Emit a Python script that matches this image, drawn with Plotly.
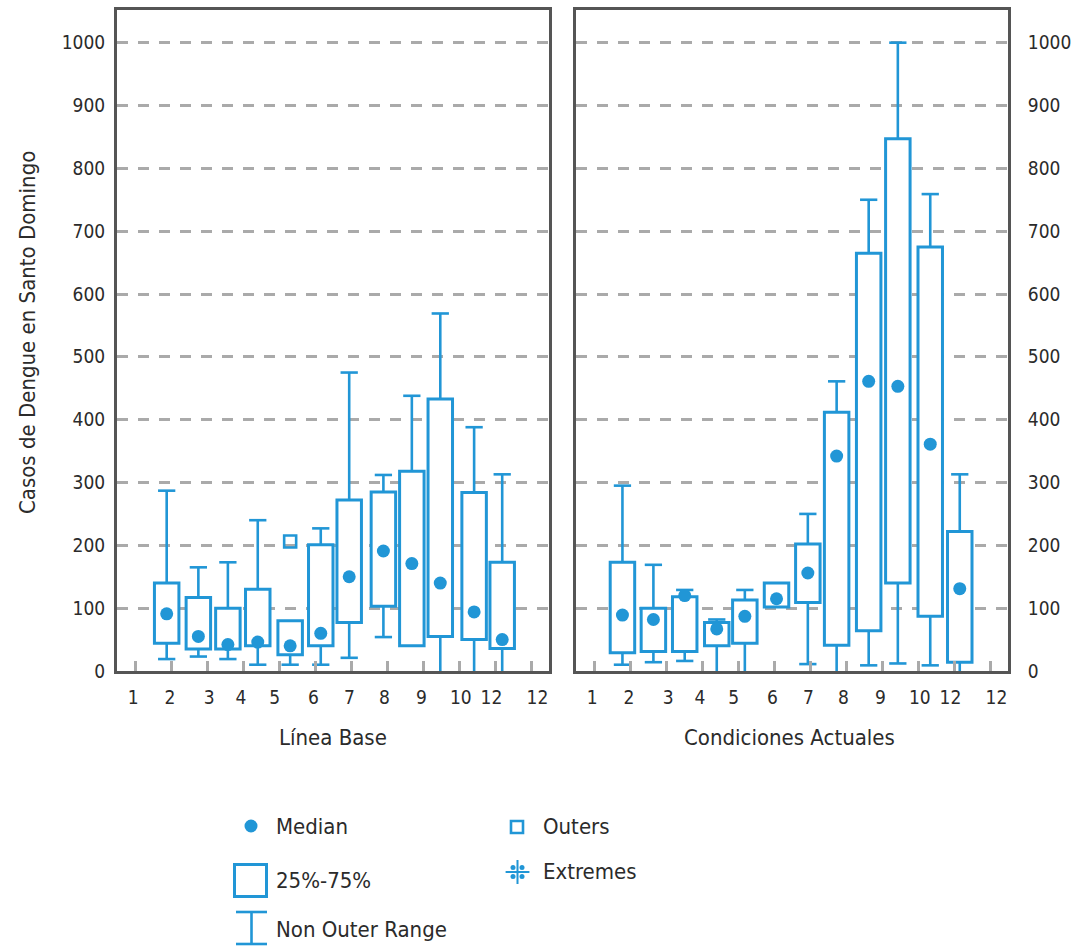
import plotly.graph_objects as go

# ---------------- data ----------------
tick_labels = ["1", "2", "3", "4", "5", "6", "7", "8", "9", "10", "12", "12"]

# Línea Base
pos_base = [1.88, 2.76, 3.58, 4.41, 5.31, 6.16, 6.95, 7.90, 8.69, 9.48, 10.42, 11.20]
base_low = [19, 23, 19, 10, 10, 10, 21, 54, 40, 0, 0, 0]
base_q1 = [44, 35, 35, 40, 26, 40, 77, 103, 40, 55, 50, 36]
base_med = [91, 55, 42, 46, 40, 60, 150, 191, 171, 140, 94, 50]
base_q3 = [140, 117, 100, 130, 80, 201, 272, 285, 318, 433, 284, 173]
base_high = [287, 165, 173, 240, 80, 227, 475, 312, 438, 569, 388, 313]
base_outer_idx = [4]
base_outer_val = [206]

# Condiciones Actuales
pos_act = [1.79, 2.65, 3.52, 4.41, 5.19, 6.07, 6.94, 7.74, 8.63, 9.44, 10.34, 11.16]
act_low = [10, 14, 16, 0, 0, 102, 11, 0, 9, 12, 9, 0]
act_q1 = [29, 31, 31, 40, 44, 102, 109, 41, 64, 140, 87, 14]
act_med = [89, 82, 120, 67, 87, 115, 156, 342, 461, 453, 361, 131]
act_q3 = [173, 100, 118, 77, 113, 140, 202, 412, 665, 847, 675, 222]
act_high = [295, 169, 129, 82, 129, 140, 250, 461, 750, 1000, 759, 313]

# ---------------- style ----------------
BLUE = "#2196D6"
FRAME = "#555555"
GRID = "#AAAAAA"
TXT = "#2b2b2b"
FONT = "DejaVu Sans Condensed, DejaVu Sans, sans-serif"
W, H = 1077, 946          # reference frame used for fractional placement
H_PAGE = 957              # rendered height
BOX_W = 0.68
CAP = 0.24

label_pos = [0.95, 1.97, 3.06, 3.94, 4.88, 5.96, 6.96, 7.93, 8.96, 10.05, 10.9, 12.18]

fig = go.Figure()


def whiskers(pos, low, q1, q3, high):
    xs, ys = [], []
    for p, lo, a, b, hi in zip(pos, low, q1, q3, high):
        if hi > b:
            xs += [p, p, None, p - CAP, p + CAP, None]
            ys += [b, hi, None, hi, hi, None]
        if lo < a:
            xs += [p, p, None]
            ys += [a, lo, None]
            if lo > 0:
                xs += [p - CAP, p + CAP, None]
                ys += [lo, lo, None]
    return xs, ys


def add_panel(pos, low, q1, med, q3, high, xa, ya):
    fig.add_trace(go.Bar(
        x=pos, y=[b - a for a, b in zip(q1, q3)], base=q1, width=BOX_W,
        marker=dict(color="white", line=dict(color=BLUE, width=3)),
        xaxis=xa, yaxis=ya, hoverinfo="skip"))
    wx, wy = whiskers(pos, low, q1, q3, high)
    fig.add_trace(go.Scatter(x=wx, y=wy, mode="lines",
                             line=dict(color=BLUE, width=2.6),
                             xaxis=xa, yaxis=ya, hoverinfo="skip"))
    fig.add_trace(go.Scatter(x=pos, y=med, mode="markers",
                             marker=dict(color=BLUE, size=13),
                             xaxis=xa, yaxis=ya))


add_panel(pos_base, base_low, base_q1, base_med, base_q3, base_high, "x", "y")
fig.add_trace(go.Scatter(
    x=[pos_base[i] for i in base_outer_idx], y=base_outer_val, mode="markers",
    marker=dict(symbol="square-open", size=12, color=BLUE, line=dict(width=2.6, color=BLUE)),
    xaxis="x", yaxis="y"))
add_panel(pos_act, act_low, act_q1, act_med, act_q3, act_high, "x2", "y2")

# ---------------- axes ----------------
y0 = 1 - 671 / H
y1 = 1 - 10 / H
common_x = dict(
    range=[0.5, 12.5], tickvals=label_pos, ticktext=tick_labels, ticks="",
    tickfont=dict(family=FONT, size=19, color=TXT), ticklabelstandoff=7,
    minor=dict(tickvals=list(range(1, 13)), ticks="inside", ticklen=10,
               tickwidth=2.5, tickcolor=GRID),
    showline=True, mirror=True, linecolor=FRAME, linewidth=3,
    showgrid=False, zeroline=False, fixedrange=True)
common_y = dict(
    range=[0, 1052], tickvals=list(range(0, 1001, 100)), ticks="",
    tickfont=dict(family=FONT, size=19, color=TXT),
    showline=True, mirror=True, linecolor=FRAME, linewidth=3,
    showgrid=True, gridcolor=GRID, gridwidth=2.6, griddash="11px,10px",
    zeroline=False, fixedrange=True)

fig.update_layout(
    xaxis=dict(domain=[117 / W, 549 / W], anchor="y", **common_x),
    xaxis2=dict(domain=[576 / W, 1008 / W], anchor="y2", **common_x),
    yaxis=dict(domain=[y0, y1], anchor="x", side="left", ticklabelstandoff=5, **common_y),
    yaxis2=dict(domain=[y0, y1], anchor="x2", side="right", ticklabelstandoff=13, **common_y),
    xaxis3=dict(domain=[0, 1], range=[0, W], visible=False, fixedrange=True),
    yaxis3=dict(domain=[0, 0.2], range=[H, H - 0.2 * H], visible=False, fixedrange=True, anchor="x3"),
)

# ---------------- legend (custom) ----------------
fig.add_trace(go.Scatter(x=[251], y=[826], mode="markers",
                         marker=dict(color=BLUE, size=13), xaxis="x3", yaxis="y3"))
fig.add_trace(go.Scatter(x=[250.5], y=[880.5], mode="markers",
                         marker=dict(symbol="square-open", size=32, color=BLUE,
                                     line=dict(width=3, color=BLUE)), xaxis="x3", yaxis="y3"))
fig.add_trace(go.Scatter(x=[251.5, 251.5, None, 236, 267, None, 236, 267],
                         y=[912, 944, None, 912, 912, None, 944, 944], mode="lines",
                         line=dict(color=BLUE, width=2.6), xaxis="x3", yaxis="y3"))
fig.add_trace(go.Scatter(x=[517], y=[827], mode="markers",
                         marker=dict(symbol="square-open", size=12, color=BLUE,
                                     line=dict(width=2.6, color=BLUE)), xaxis="x3", yaxis="y3"))
# "Extremes" glyph: four dots around a cross
fig.add_trace(go.Scatter(x=[513, 522, 513, 522], y=[867.5, 867.5, 876.5, 876.5], mode="markers",
                         marker=dict(color=BLUE, size=5), xaxis="x3", yaxis="y3"))
fig.add_trace(go.Scatter(x=[517.5], y=[872], mode="markers",
                         marker=dict(symbol="cross-thin-open", size=17, color=BLUE,
                                     line=dict(width=2, color=BLUE)), xaxis="x3", yaxis="y3"))

legend_items = [("Median", 274, 826), ("25%-75%", 274, 880), ("Non Outer Range", 274, 929),
                ("Outers", 541, 826), ("Extremes", 541, 871)]
annotations = []
for txt, lx, ly in legend_items:
    annotations.append(dict(text=txt, x=lx, y=ly, xref="x3", yref="y3", showarrow=False,
                            xanchor="left", yanchor="middle",
                            font=dict(family=FONT, size=22, color=TXT)))

annotations += [
    dict(text="Línea Base", x=333 / W, y=1 - 737 / H, xref="paper", yref="paper",
         showarrow=False, xanchor="center", yanchor="middle",
         font=dict(family=FONT, size=22, color=TXT)),
    dict(text="Condiciones Actuales", x=789 / W, y=1 - 737 / H, xref="paper", yref="paper",
         showarrow=False, xanchor="center", yanchor="middle",
         font=dict(family=FONT, size=22, color=TXT)),
    dict(text="Casos de Dengue en Santo Domingo", x=27 / W, y=1 - 333 / H, xref="paper",
         yref="paper", showarrow=False, textangle=-90, xanchor="center", yanchor="middle",
         font=dict(family=FONT, size=22, color=TXT)),
]

fig.update_layout(
    width=W, height=H_PAGE, margin=dict(l=0, r=0, t=0, b=0),
    paper_bgcolor="white", plot_bgcolor="white", showlegend=False,
    barmode="overlay", annotations=annotations,
    font=dict(family=FONT, color=TXT),
)

post = (
    "document.body.style.margin='0';"
    "document.documentElement.style.overflow='hidden';"
    "document.body.style.overflow='hidden';"
)
fig.write_html("out.html", post_script=post, config={"displayModeBar": False})
